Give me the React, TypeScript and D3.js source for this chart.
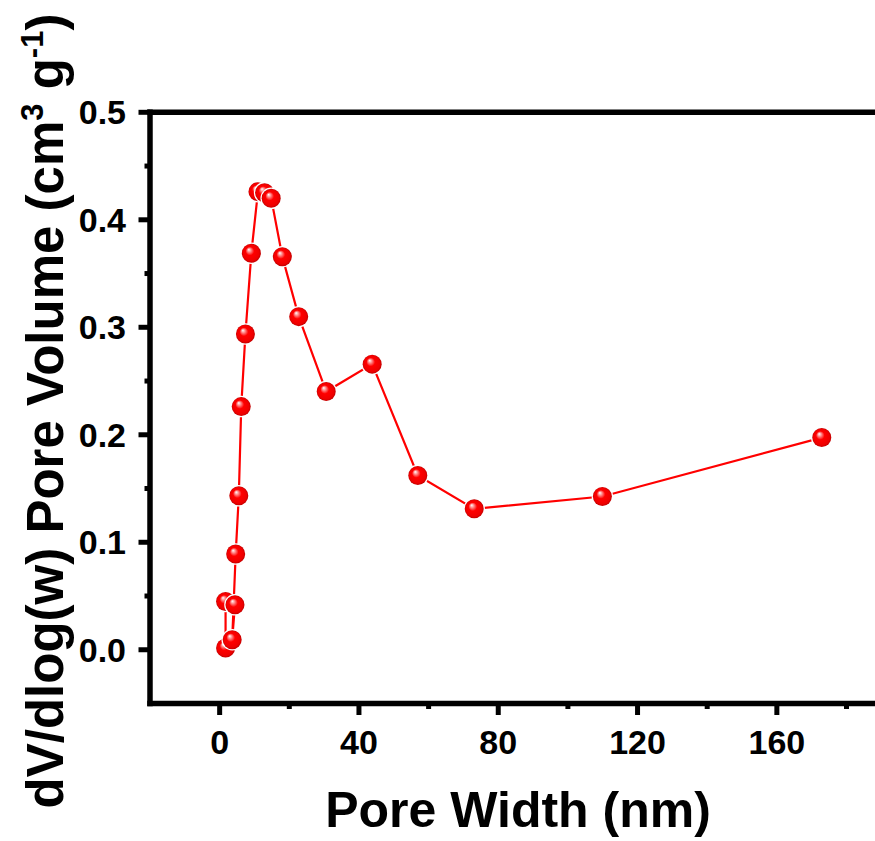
import React from "react";
import * as d3 from "d3";

// Pore width (nm) and dV/dlog(w) pore volume (cm^3 g^-1), in plotted order
const poreWidth = [1.7, 1.7, 4.4, 3.6, 4.6, 5.5, 6.2, 7.4, 9.1, 11.0, 12.9, 14.8, 18.0, 22.7, 30.6, 43.8, 56.9, 73.1, 109.9, 172.9];
const poreVolume = [0.0016, 0.0449, 0.0418, 0.0093, 0.089, 0.1432, 0.2262, 0.2938, 0.3689, 0.4262, 0.4252, 0.42, 0.3657, 0.3099, 0.2402, 0.2657, 0.1621, 0.1311, 0.1426, 0.1974];

const xMajorTicks = [0, 40, 80, 120, 160];
const xMinorTicks = [20, 60, 100, 140, 180];
const yMajorTicks = [0.0, 0.1, 0.2, 0.3, 0.4, 0.5];
const yMinorTicks = [0.05, 0.15, 0.25, 0.35, 0.45];

const W = 875;
const H = 841;
const FONT = "'Liberation Sans', Arial, Helvetica, sans-serif";

export default function App() {
  const left = 150;
  const top = 112.3;
  const bottom = 703.5;
  const x = d3.scaleLinear().domain([-20, 200]).range([left, left + 220 * 3.4825]);
  const y = d3.scaleLinear().domain([-0.05, 0.5]).range([bottom, top]);

  const pts = poreWidth.map((w, i) => [w, poreVolume[i]] as [number, number]);
  const line = d3
    .line<[number, number]>()
    .x((d) => x(d[0]))
    .y((d) => y(d[1]));

  const axisW = 5.5;
  const majorLen = 11.5;
  const minorLen = 5.5;
  const right = x(200);

  return (
    <svg
      width={W}
      height={H}
      style={{ position: "absolute", left: 0, top: 0, background: "#fff" }}
      fontFamily={FONT}
    >
      <defs>
        <radialGradient id="ball" cx="0.5" cy="0.5" r="0.5" fx="0.36" fy="0.3">
          <stop offset="0" stopColor="#ffffff" />
          <stop offset="0.22" stopColor="#ff8080" />
          <stop offset="0.45" stopColor="#ff0000" />
          <stop offset="0.85" stopColor="#ee0000" />
          <stop offset="1" stopColor="#c00000" />
        </radialGradient>
      </defs>
      <rect x={0} y={0} width={W} height={H} fill="#fff" />

      {/* data line */}
      <path d={line(pts) || ""} fill="none" stroke="#ff0000" strokeWidth={2.2} />
      {/* markers */}
      {pts.map((p, i) => (
        <circle
          key={i}
          cx={x(p[0])}
          cy={y(p[1])}
          r={9.5}
          fill="url(#ball)"
          stroke="#ffffff"
          strokeWidth={2.5}
          paintOrder="stroke"
        />
      ))}

      {/* frame: left, bottom, top */}
      <line x1={left} x2={left} y1={top - axisW / 2} y2={bottom + axisW / 2} stroke="#000" strokeWidth={axisW} />
      <line x1={left - axisW / 2} x2={right} y1={bottom} y2={bottom} stroke="#000" strokeWidth={axisW} />
      <line x1={left - axisW / 2} x2={right} y1={top} y2={top} stroke="#000" strokeWidth={axisW} />

      {/* x ticks */}
      {xMajorTicks.map((t) => (
        <g key={"xm" + t}>
          <line x1={x(t)} x2={x(t)} y1={bottom} y2={bottom + majorLen} stroke="#000" strokeWidth={5} />
          <text x={x(t)} y={754} textAnchor="middle" fontSize={34} fontWeight="bold" fill="#000">
            {t}
          </text>
        </g>
      ))}
      {xMinorTicks.map((t) => (
        <line key={"xn" + t} x1={x(t)} x2={x(t)} y1={bottom} y2={bottom + minorLen} stroke="#000" strokeWidth={5} />
      ))}

      {/* y ticks */}
      {yMajorTicks.map((t) => (
        <g key={"ym" + t}>
          <line x1={left} x2={left - majorLen} y1={y(t)} y2={y(t)} stroke="#000" strokeWidth={5} />
          <text x={126} y={y(t) + 12} textAnchor="end" fontSize={34} fontWeight="bold" fill="#000">
            {t.toFixed(1)}
          </text>
        </g>
      ))}
      {yMinorTicks.map((t) => (
        <line key={"yn" + t} x1={left} x2={left - minorLen} y1={y(t)} y2={y(t)} stroke="#000" strokeWidth={5} />
      ))}

      {/* axis titles */}
      <text x={518} y={827} textAnchor="middle" fontSize={50} fontWeight="bold" fill="#000">
        Pore Width (nm)
      </text>
      <text
        transform="translate(63,411) rotate(-90)"
        textAnchor="middle"
        fontSize={51}
        fontWeight="bold"
        fill="#000"
      >
        dV/dlog(w) Pore Volume (cm
        <tspan fontSize={31} dy={-20}>3</tspan>
        <tspan dy={20}> g</tspan>
        <tspan fontSize={31} dy={-20}>-1</tspan>
        <tspan dy={20}>)</tspan>
      </text>
    </svg>
  );
}
